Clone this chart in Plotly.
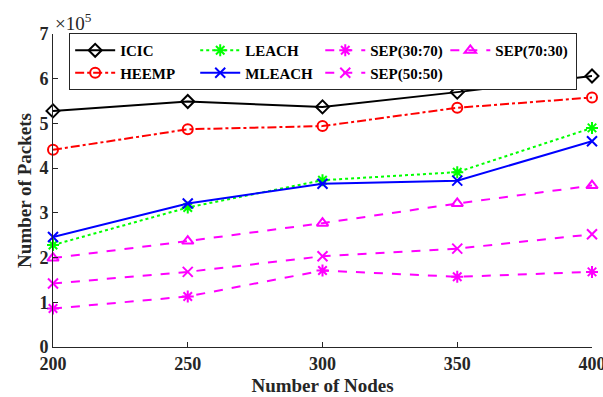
import plotly.graph_objects as go

nodes = [200, 250, 300, 350, 400]
icic = [5.28, 5.49, 5.37, 5.70, 6.06]
heemp = [4.41, 4.87, 4.94, 5.35, 5.58]
leach = [2.28, 3.12, 3.73, 3.91, 4.90]
mleach = [2.46, 3.21, 3.65, 3.72, 4.60]
sep3070 = [0.86, 1.13, 1.71, 1.57, 1.68]
sep5050 = [1.42, 1.68, 2.03, 2.20, 2.52]
sep7030 = [1.99, 2.37, 2.77, 3.21, 3.61]

FONT = "Liberation Serif"
MAG = "#ff00ff"

series = [
    ("ICIC", icic, "black", "solid", "diamond-open"),
    ("LEACH", leach, "#00ff00", "dot", "asterisk-open"),
    ("SEP(30:70)", sep3070, MAG, "dash", "asterisk-open"),
    ("SEP(70:30)", sep7030, MAG, "dash", "triangle-up-open"),
    ("HEEMP", heemp, "red", "dashdot", "circle-open"),
    ("MLEACH", mleach, "blue", "solid", "x-thin-open"),
    ("SEP(50:50)", sep5050, MAG, "dash", "x-thin-open"),
]

fig = go.Figure()
for name, vals, col, dash, sym in series:
    fig.add_trace(go.Scatter(
        x=nodes, y=[v * 1e5 for v in vals], name="<b>" + name + "</b>",
        mode="lines+markers", cliponaxis=False,
        line=dict(color=col, width=2, dash=dash),
        marker=dict(symbol=sym, size=10, color=col, line=dict(color=col, width=2)),
    ))

axis_common = dict(
    showline=True, linecolor="#262626", linewidth=1, mirror=False,
    ticks="inside", ticklen=5, tickcolor="#262626", showgrid=False, zeroline=False,
    tickfont=dict(family=FONT, size=18, color="#262626"), automargin=False,
    ticklabeloverflow="allow",
)
fig.update_xaxes(range=[200, 400], tickvals=nodes, ticktext=["<b>%d</b>" % n for n in nodes],
                 title=dict(text="<b>Number of Nodes</b>", font=dict(family=FONT, size=19, color="#262626"), standoff=6),
                 **axis_common)
ytv = [i * 1e5 for i in range(8)]
fig.update_yaxes(range=[0, 7e5], tickvals=ytv, ticktext=["<b>%d</b>" % i for i in range(8)],
                 title=dict(text="<b>Number of Packets</b>", font=dict(family=FONT, size=19, color="#262626"), standoff=2),
                 **axis_common)

fig.add_annotation(xref="paper", yref="paper", x=0, y=1, xanchor="left", yanchor="bottom",
                   text="×10<sup>5</sup>", showarrow=False,
                   font=dict(family=FONT, size=19, color="#262626"), yshift=-2)

fig.update_layout(
    width=603, height=397, plot_bgcolor="white", paper_bgcolor="white",
    margin=dict(l=53, r=11, t=34, b=50),
    font=dict(family=FONT, color="black"),
    legend=dict(orientation="h", x=0.03, y=1.003, xanchor="left", yanchor="top",
                bordercolor="#262626", borderwidth=1, bgcolor="white",
                font=dict(family=FONT, size=15, color="black"),
                entrywidth=0.232, entrywidthmode="fraction", tracegroupgap=0,
                itemwidth=40),
)

fig.write_html("out.html", post_script="document.body.style.margin='0';",
               config={"displayModeBar": False})
